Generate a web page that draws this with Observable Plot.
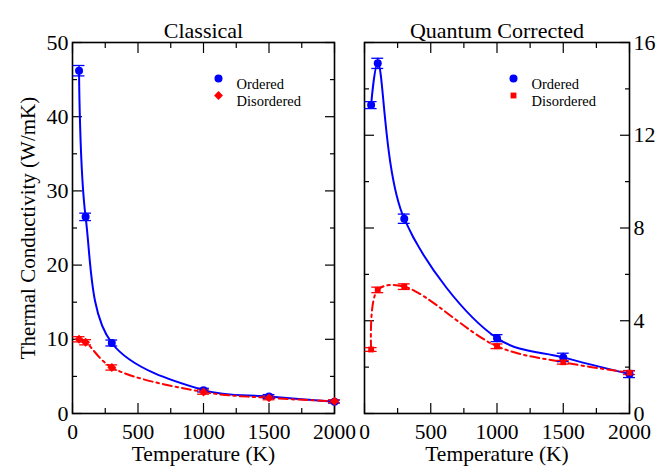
<!DOCTYPE html>
<html><head><meta charset="utf-8">
<script src="https://cdn.jsdelivr.net/npm/d3@7"></script>
<script src="https://cdn.jsdelivr.net/npm/@observablehq/plot@0.6"></script>
<style>
body{margin:0;background:#fff;}
#wrap{position:relative;width:668px;height:472px;overflow:hidden;background:#fff;}
#wrap svg{position:absolute;top:0;}
</style></head><body><div id="wrap"></div>
<script>
const temperatures = [50, 100, 300, 1000, 1500, 2000];

const classicalOrdered      = [46.2, 26.5, 9.5, 3.15, 2.3, 1.6];
const classicalOrderedErr   = [0.7, 0.5, 0.4, 0.25, 0.25, 0.2];
const classicalDisordered   = [10.0, 9.6, 6.2, 2.9, 2.1, 1.65];
const classicalDisorderedErr= [0.35, 0.35, 0.35, 0.3, 0.25, 0.2];

const quantumOrdered        = [13.3, 15.1, 8.4, 3.25, 2.42, 1.7];
const quantumOrderedErr     = [0.15, 0.22, 0.2, 0.15, 0.18, 0.15];
const quantumDisordered     = [2.76, 5.33, 5.47, 2.9, 2.21, 1.76];
const quantumDisorderedErr  = [0.08, 0.12, 0.12, 0.1, 0.08, 0.08];

const xMajor = [0, 500, 1000, 1500, 2000];
const xMinor = [250, 750, 1250, 1750];
const classicalYMajor = [0, 10, 20, 30, 40, 50];
const classicalYMinor = [5, 15, 25, 35, 45];
const quantumYMajor = [0, 4, 8, 12, 16];
const quantumYMinor = [2, 6, 10, 14];

const seriesNames = ["Ordered", "Disordered"];
const seriesColors = ["blue", "red"];

function rows(values, errs, series) {
  return temperatures.map((T, i) => ({T, k: values[i], e: errs[i], series}));
}

function panel(o) {
  const ord = rows(o.ordered, o.orderedErr, "Ordered");
  const dis = rows(o.disordered, o.disorderedErr, "Disordered");
  const all = ord.concat(dis);
  const font = "Liberation Serif";
  const blank = () => "";
  const sw = 1.2;
  const marks = [
    Plot.axisX(xMajor, {anchor: "bottom", tickSize: -10, tickPadding: 20, fontSize: 21.5, tickFormat: d3.format("d"), label: null, strokeWidth: sw}),
    Plot.axisX(xMinor, {anchor: "bottom", tickSize: -5, tickFormat: blank, label: null, strokeWidth: sw}),
    Plot.axisX(xMajor, {anchor: "top", tickSize: -10, tickFormat: blank, label: null, strokeWidth: sw}),
    Plot.axisX(xMinor, {anchor: "top", tickSize: -5, tickFormat: blank, label: null, strokeWidth: sw}),
    Plot.axisY(o.yMajor, {anchor: o.labelSide, tickSize: -10, tickPadding: 14, fontSize: 22, label: null, strokeWidth: sw}),
    Plot.axisY(o.yMajor, {anchor: o.labelSide === "left" ? "right" : "left", tickSize: -10, tickFormat: blank, label: null, strokeWidth: sw}),
    Plot.axisY(o.yMinor, {anchor: "left", tickSize: -5, tickFormat: blank, label: null, strokeWidth: sw}),
    Plot.axisY(o.yMinor, {anchor: "right", tickSize: -5, tickFormat: blank, label: null, strokeWidth: sw}),
    Plot.frame({stroke: "black", strokeWidth: 1.6}),
    // curves
    Plot.line(ord, {x: "T", y: "k", stroke: "blue", strokeWidth: 2, curve: o.curveOrd}),
    Plot.line(dis, {x: "T", y: "k", stroke: "red", strokeWidth: 2, strokeDasharray: "9,4,2.5,4", curve: o.curveDis}),
    // error bars
    Plot.ruleX(all, {x: "T", y1: d => d.k - d.e, y2: d => d.k + d.e, stroke: d => d.series, strokeWidth: 1.3}),
    Plot.ruleY(all, {y: d => d.k - d.e, x1: d => d.T - 45, x2: d => d.T + 45, stroke: d => d.series, strokeWidth: 1.3}),
    Plot.ruleY(all, {y: d => d.k + d.e, x1: d => d.T - 45, x2: d => d.T + 45, stroke: d => d.series, strokeWidth: 1.3}),
    // markers
    Plot.dot(ord, {x: "T", y: "k", fill: "blue", r: 4, symbol: "circle"}),
    Plot.dot(dis, {x: "T", y: "k", fill: "red", r: o.disR, symbol: o.disSymbol}),
    // legend
    Plot.dot([0], {frameAnchor: "top-left", dx: o.legX, dy: 36, fill: "blue", r: 4, symbol: "circle"}),
    Plot.dot([0], {frameAnchor: "top-left", dx: o.legX, dy: 53, fill: "red", r: o.disR, symbol: o.disSymbol}),
    Plot.text(["Ordered"], {frameAnchor: "top-left", dx: o.legX + 18, dy: 36, textAnchor: "start", fontSize: 14.5}),
    Plot.text(["Disordered"], {frameAnchor: "top-left", dx: o.legX + 18, dy: 53, textAnchor: "start", fontSize: 14.5}),
    // titles
    Plot.text([o.title], {frameAnchor: "top", dy: -20, fontSize: 22}),
    Plot.text(["Temperature (K)"], {frameAnchor: "bottom", dy: 47, fontSize: 21.5})
  ];
  if (o.yLabel) marks.push(Plot.text([o.yLabel], {frameAnchor: "left", dx: -44, rotate: -90, textAnchor: "middle", fontSize: 21}));
  const chart = Plot.plot({
    width: o.width, height: 472,
    marginLeft: o.ml, marginRight: o.mr, marginTop: 42, marginBottom: 59,
    style: {fontFamily: font, fontSize: "22px", background: "transparent", color: "black", overflow: "visible"},
    x: {domain: [0, 2000]},
    y: {domain: o.yDomain},
    color: {domain: seriesNames, range: seriesColors},
    marks
  });
  chart.style.left = o.left + "px";
  return chart;
}

const wrap = document.getElementById("wrap");
wrap.appendChild(panel({
  title: "Classical", left: 0, width: 345, ml: 72, mr: 11,
  ordered: classicalOrdered, orderedErr: classicalOrderedErr,
  disordered: classicalDisordered, disorderedErr: classicalDisorderedErr,
  yDomain: [0, 50], yMajor: classicalYMajor, yMinor: classicalYMinor,
  labelSide: "left", yLabel: "Thermal Conductivity (W/mK)",
  disSymbol: "diamond2", disR: 4, legX: 146,
  curveOrd: "catmull-rom", curveDis: "catmull-rom"
}));
wrap.appendChild(panel({
  title: "Quantum Corrected", left: 345, width: 323, ml: 19, mr: 39,
  ordered: quantumOrdered, orderedErr: quantumOrderedErr,
  disordered: quantumDisordered, disorderedErr: quantumDisorderedErr,
  yDomain: [0, 16], yMajor: quantumYMajor, yMinor: quantumYMinor,
  labelSide: "right", yLabel: null,
  disSymbol: "square", disR: 3.3, legX: 149,
  curveOrd: "catmull-rom", curveDis: "catmull-rom"
}));
</script></body></html>
